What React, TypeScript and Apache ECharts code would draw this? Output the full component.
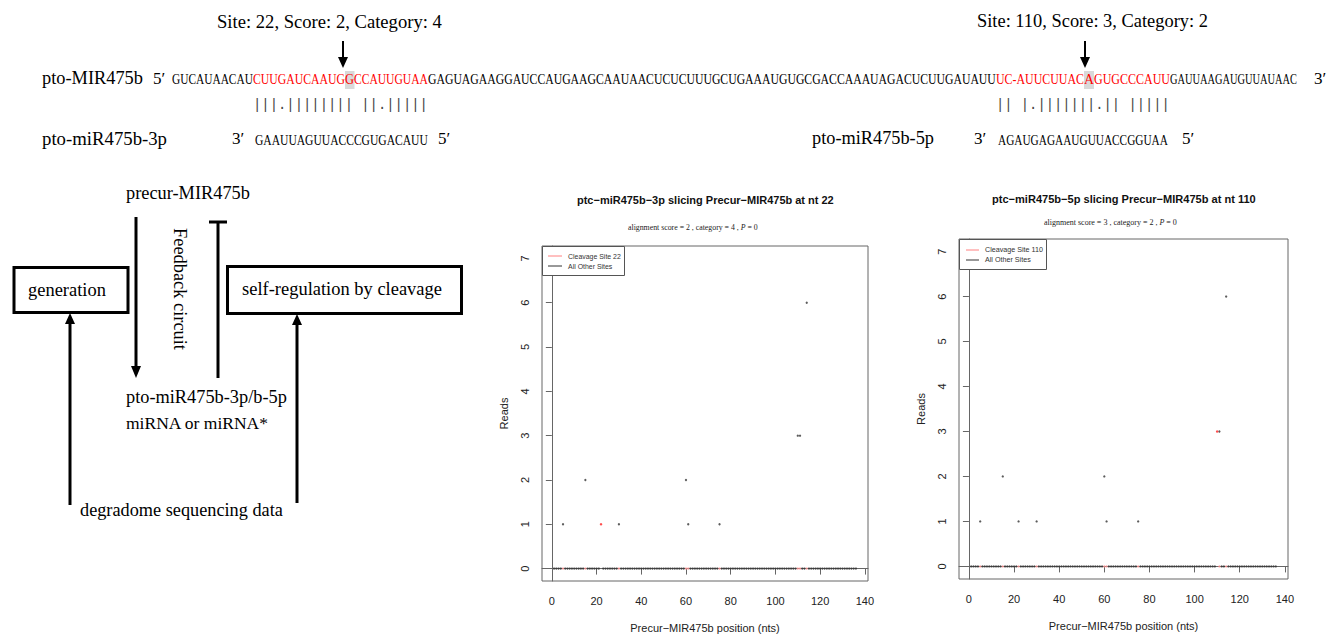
import React, { useEffect, useRef } from "react";
import * as echarts from "echarts";

// ---------------- DATA ----------------
// degradome reads along the 136-nt precursor (positions 1..136)
const reads = [
  0, 0, 0, 0, 1, 0, 0, 0, 0, 0,
  0, 0, 0, 0, 2, 0, 0, 0, 0, 0,
  0, 1, 0, 0, 0, 0, 0, 0, 0, 1,
  0, 0, 0, 0, 0, 0, 0, 0, 0, 0,
  0, 0, 0, 0, 0, 0, 0, 0, 0, 0,
  0, 0, 0, 0, 0, 0, 0, 0, 0, 2,
  1, 0, 0, 0, 0, 0, 0, 0, 0, 0,
  0, 0, 0, 0, 1, 0, 0, 0, 0, 0,
  0, 0, 0, 0, 0, 0, 0, 0, 0, 0,
  0, 0, 0, 0, 0, 0, 0, 0, 0, 0,
  0, 0, 0, 0, 0, 0, 0, 0, 0, 3,
  3, 0, 0, 6, 0, 0, 0, 0, 0, 0,
  0, 0, 0, 0, 0, 0, 0, 0, 0, 0,
  0, 0, 0, 0, 0, 0,
];
const cleavageSites = [22, 110];
const chartTitles = [
  "ptc\u2212miR475b\u22123p slicing Precur\u2212MIR475b at nt 22",
  "ptc\u2212miR475b\u22125p slicing Precur\u2212MIR475b at nt 110",
];
const scores = [2, 3];
const categories = [4, 2];
const pValues = [0, 0];
const legendSiteLabels = ["Cleavage Site 22", "Cleavage Site 110"];
const legendOtherLabel = "All Other Sites";
const xTicks = [0, 20, 40, 60, 80, 100, 120, 140];
const yTicks = [0, 1, 2, 3, 4, 5, 6, 7];
const xAxisName = "Precur\u2212MIR475b position (nts)";
const yAxisName = "Reads";

// sequences (target segments, as displayed)
const seqSegments = [
  "GUCAUAACAU",
  "CUUGAUCAAUG",
  "G",
  "CCAUUGUAA",
  "GAGUAGAAGGAUCCAUGAAGCAAUAACUCUCUUUGCUGAAAUGUGCGACCAAAUAGACUCUUGAUAUU",
  "UC-AUUCUUAC",
  "A",
  "GUGCCCAUU",
  "GAUUAAGAUGUUAUAAC",
];
const seqSegmentRed = [false, true, true, true, false, true, true, true, false];
const pairing3p = "|||.|||||||| ||.|||||";
const pairing5p = "|| |.|||||||.|| |||||";
const mir3pSeq = "GAAUUAGUUACCCGUGACAUU";
const mir5pSeq = "AGAUGAGAAUGUUACCGGUAA";
const siteLabels = ["Site: 22, Score: 2, Category: 4", "Site: 110, Score: 3, Category: 2"];

// ---------------- HELPERS ----------------
const SERIF = '"Liberation Serif", "Times New Roman", serif';
const SANS = '"Liberation Sans", Arial, sans-serif';
const MONO = '"Liberation Mono", monospace';

let mctx: CanvasRenderingContext2D | null = null;
function measure(text: string, size: number, family: string, weight = "normal", italic = false) {
  if (!mctx) mctx = document.createElement("canvas").getContext("2d");
  mctx!.font = `${italic ? "italic" : "normal"} ${weight} ${size}px ${family}`;
  return mctx!.measureText(text).width;
}

type TOpts = { family?: string; weight?: string; italic?: boolean; color?: string; size?: number; z?: number; noFit?: boolean };
function textEl(text: string, left: number, right: number, cy: number, o: TOpts = {}) {
  const family = o.family || SERIF;
  const weight = o.weight || "normal";
  const italic = !!o.italic;
  let size: number;
  let scaleX = 1;
  if (o.size) {
    size = o.size;
    if (!o.noFit) scaleX = (right - left) / measure(text, size, family, weight, italic);
  } else {
    size = (20 * (right - left)) / measure(text, 20, family, weight, italic);
  }
  return {
    type: "text",
    x: left,
    y: cy,
    scaleX,
    silent: true,
    z: o.z ?? 20,
    style: {
      text,
      fontSize: size,
      fontFamily: family,
      fontWeight: weight,
      fontStyle: italic ? "italic" : "normal",
      fill: o.color || "#000",
      textAlign: "left",
      textVerticalAlign: "middle",
    },
  };
}

function vArrow(x: number, yFrom: number, yTo: number, lw: number, headW: number, headL: number) {
  const dir = yTo > yFrom ? 1 : -1;
  const yb = yTo - dir * headL;
  return [
    { type: "line", silent: true, z: 20, shape: { x1: x, y1: yFrom, x2: x, y2: yb + dir * 1 }, style: { stroke: "#000", lineWidth: lw } },
    {
      type: "polygon",
      silent: true,
      z: 20,
      shape: { points: [[x - headW / 2, yb], [x + headW / 2, yb], [x, yTo]] },
      style: { fill: "#000" },
    },
  ];
}

function lineEl(x1: number, y1: number, x2: number, y2: number, lw: number, color = "#000", z = 20) {
  return { type: "line", silent: true, z, shape: { x1, y1, x2, y2 }, style: { stroke: color, lineWidth: lw } };
}

function rectEl(x: number, y: number, w: number, h: number, style: any, z = 20) {
  return { type: "rect", silent: true, z, shape: { x, y, width: w, height: h }, style };
}

// ---------------- BUILD GRAPHICS ----------------
function buildGraphics() {
  const els: any[] = [];
  const PRIME = { size: 17, noFit: true };

  // site labels + arrows
  els.push(textEl(siteLabels[0], 217, 442, 21));
  els.push(textEl(siteLabels[1], 977, 1208, 21));
  els.push(...vArrow(343, 41, 68, 2, 10, 11));
  els.push(...vArrow(1085, 41, 68, 2, 10, 11));

  // highlights behind cleavage nucleotides
  els.push(rectEl(345, 71, 9.5, 18, { fill: "#d9d9d9" }, 5));
  els.push(rectEl(1084, 71, 10, 18, { fill: "#d9d9d9" }, 5));

  // precursor row
  els.push(textEl("pto-MIR475b", 42, 143, 78));
  els.push(textEl("5\u2032", 153, 169, 78, PRIME));
  const segBounds = [
    [172, 253], [253, 345], [345, 354], [354, 428], [428, 996],
    [996, 1084], [1084, 1094], [1094, 1170], [1170, 1297],
  ];
  seqSegments.forEach((s, i) => {
    els.push(textEl(s, segBounds[i][0], segBounds[i][1], 79, { size: 15, color: seqSegmentRed[i] ? "#ff0000" : "#000" }));
  });
  els.push(textEl("3\u2032", 1314, 1331, 78, PRIME));

  // pairing rows
  els.push(textEl(pairing3p, 253, 428, 105, { family: MONO, size: 14, color: "#444" }));
  els.push(textEl(pairing5p, 996, 1170, 105, { family: MONO, size: 14, color: "#444" }));

  // miRNA rows
  els.push(textEl("pto-miR475b-3p", 42, 167, 138));
  els.push(textEl("3\u2032", 232, 247, 138, PRIME));
  els.push(textEl(mir3pSeq, 255, 428, 140, { size: 15 }));
  els.push(textEl("5\u2032", 438, 454, 138, PRIME));
  els.push(textEl("pto-miR475b-5p", 812, 934, 138));
  els.push(textEl("3\u2032", 974, 990, 138, PRIME));
  els.push(textEl(mir5pSeq, 998, 1168, 140, { size: 15 }));
  els.push(textEl("5\u2032", 1182, 1198, 138, PRIME));

  // left diagram
  els.push(textEl("precur-MIR475b", 126, 250, 193));
  els.push(...vArrow(136, 217, 378, 3, 10, 12));
  els.push(lineEl(218, 222, 218, 378, 3));
  els.push(lineEl(209, 222, 227, 222, 3));
  {
    const t: any = textEl("Feedback circuit", 0, 122, 0);
    const size = t.style.fontSize;
    els.push({
      type: "text",
      x: 180,
      y: 289,
      rotation: -Math.PI / 2,
      silent: true,
      z: 20,
      style: { text: "Feedback circuit", fontSize: size, fontFamily: SERIF, fill: "#000", textAlign: "center", textVerticalAlign: "middle" },
    });
  }
  els.push(rectEl(14, 267.5, 114, 45, { fill: "none", stroke: "#000", lineWidth: 3 }));
  els.push(textEl("generation", 28, 106, 290));
  els.push(rectEl(227.5, 266.5, 234, 47, { fill: "none", stroke: "#000", lineWidth: 3 }));
  els.push(textEl("self-regulation by cleavage", 242, 442, 289));
  els.push(...vArrow(70, 505, 313, 3, 10, 11));
  els.push(...vArrow(297, 503, 314, 3, 10, 11));
  els.push(textEl("pto-miR475b-3p/b-5p", 126, 287, 397));
  els.push(textEl("miRNA or miRNA*", 126, 268, 423, { size: 17.5, noFit: true }));
  els.push(textEl("degradome sequencing data", 80, 283, 510));

  // chart titles & subtitles
  const titleGeom = [
    { l: 577, r: 834, cy: 200, sl: 628, sr: 758, scy: 227 },
    { l: 992, r: 1256, cy: 199, sl: 1044, sr: 1177, scy: 222 },
  ];
  titleGeom.forEach((g, i) => {
    els.push(textEl(chartTitles[i], g.l, g.r, g.cy, { family: SANS, weight: "bold", color: "#111" }));
    const parts = [
      { t: `alignment score = ${scores[i]} , category = ${categories[i]} , `, it: false },
      { t: "P", it: true },
      { t: ` = ${pValues[i]}`, it: false },
    ];
    const total = parts.reduce((a, p) => a + measure(p.t, 20, SERIF, "normal", p.it), 0);
    const size = (20 * (g.sr - g.sl)) / total;
    let x = g.sl;
    parts.forEach((p) => {
      els.push({
        type: "text",
        x,
        y: g.scy,
        silent: true,
        z: 20,
        style: {
          text: p.t,
          fontSize: size,
          fontFamily: SERIF,
          fontStyle: p.it ? "italic" : "normal",
          fill: "#222",
          textAlign: "left",
          textVerticalAlign: "middle",
        },
      });
      x += measure(p.t, size, SERIF, "normal", p.it);
    });
  });

  // legends
  const legGeom = [
    { x: 542, y: 246, w: 82, h: 29, lx1: 548, lx2: 562, y1: 256, y2: 266, tx: 568, tr1: 621 },
    { x: 959, y: 239, w: 87, h: 30, lx1: 966, lx2: 979, y1: 250, y2: 260, tx: 985, tr1: 1043 },
  ];
  legGeom.forEach((g, i) => {
    els.push(rectEl(g.x + 0.5, g.y + 0.5, g.w, g.h, { fill: "#fff", stroke: "#555", lineWidth: 1 }, 30));
    els.push(lineEl(g.lx1, g.y1, g.lx2, g.y1, 1, "#ff8080", 31));
    els.push(lineEl(g.lx1, g.y2, g.lx2, g.y2, 1, "#333", 31));
    const t1: any = textEl(legendSiteLabels[i], g.tx, g.tr1, g.y1, { family: SANS, color: "#333", z: 31 });
    els.push(t1);
    els.push({
      type: "text",
      x: g.tx,
      y: g.y2,
      silent: true,
      z: 31,
      style: { text: legendOtherLabel, fontSize: t1.style.fontSize, fontFamily: SANS, fill: "#333", textAlign: "left", textVerticalAlign: "middle" },
    });
  });

  return els;
}

// ---------------- CHART OPTION ----------------
function buildOption() {
  const grids = [
    { left: 542, top: 246, width: 326, height: 335 },
    { left: 959, top: 239, width: 329, height: 340 },
  ];
  const xAxis: any[] = [];
  const yAxis: any[] = [];
  const series: any[] = [];
  grids.forEach((_, gi) => {
    xAxis.push({
      type: "value",
      gridIndex: gi,
      min: -4.4,
      max: 141.4,
      axisLine: { show: true, lineStyle: { color: "#666" } },
      splitLine: { show: false },
      axisTick: { show: true, length: 6, lineStyle: { color: "#666" }, customValues: xTicks },
      axisLabel: { customValues: xTicks, fontSize: 11, color: "#222", fontFamily: SANS, margin: 14 },
      name: xAxisName,
      nameLocation: "middle",
      nameGap: 41,
      nameTextStyle: { fontSize: 11, color: "#222", fontFamily: SANS },
    });
    yAxis.push({
      type: "value",
      gridIndex: gi,
      min: -0.28,
      max: 7.28,
      axisLine: { show: true, lineStyle: { color: "#666" } },
      splitLine: { show: false },
      axisTick: { show: true, length: 6, lineStyle: { color: "#666" }, customValues: yTicks },
      axisLabel: { customValues: yTicks, fontSize: 11, color: "#222", fontFamily: SANS, rotate: 90, margin: 12 },
      name: yAxisName,
      nameLocation: "middle",
      nameGap: 33,
      nameTextStyle: { fontSize: 11, color: "#222", fontFamily: SANS },
    });
    const site = cleavageSites[gi];
    const others = reads.map((r, i) => [i + 1, r]).filter((p) => p[0] !== site);
    const zeroMarks = reads
      .map((r, i) => [i + 1, r])
      .filter((p) => p[1] > 0 && p[0] !== site)
      .map((p) => [p[0], 0]);
    series.push({
      type: "scatter",
      xAxisIndex: gi,
      yAxisIndex: gi,
      data: others,
      symbol: "circle",
      symbolSize: 2.3,
      itemStyle: { color: "#333" },
      silent: true,
      z: 2,
    });
    series.push({
      type: "scatter",
      xAxisIndex: gi,
      yAxisIndex: gi,
      data: zeroMarks,
      symbol: "circle",
      symbolSize: 2.3,
      itemStyle: { color: "#ff9090" },
      silent: true,
      z: 3,
    });
    series.push({
      type: "scatter",
      xAxisIndex: gi,
      yAxisIndex: gi,
      data: [[site, reads[site - 1]]],
      symbol: "circle",
      symbolSize: 2.5,
      itemStyle: { color: "#ff2020" },
      silent: true,
      z: 4,
    });
  });

  return {
    animation: false,
    backgroundColor: "#fff",
    grid: grids.map((g) => ({
      ...g,
      show: true,
      borderColor: "#666",
      borderWidth: 1,
      backgroundColor: "transparent",
      containLabel: false,
      outerBoundsMode: "none",
    })),
    xAxis,
    yAxis,
    series,
    graphic: { elements: buildGraphics() },
  };
}

export default function App() {
  const ref = useRef<HTMLDivElement>(null);
  useEffect(() => {
    if (!ref.current) return;
    const chart = echarts.init(ref.current, undefined, { renderer: "svg" });
    chart.setOption(buildOption() as any);
    return () => chart.dispose();
  }, []);
  return (
    <div
      ref={ref}
      style={{ position: "absolute", left: 0, top: 0, width: 1335, height: 634, background: "#fff" }}
    />
  );
}
